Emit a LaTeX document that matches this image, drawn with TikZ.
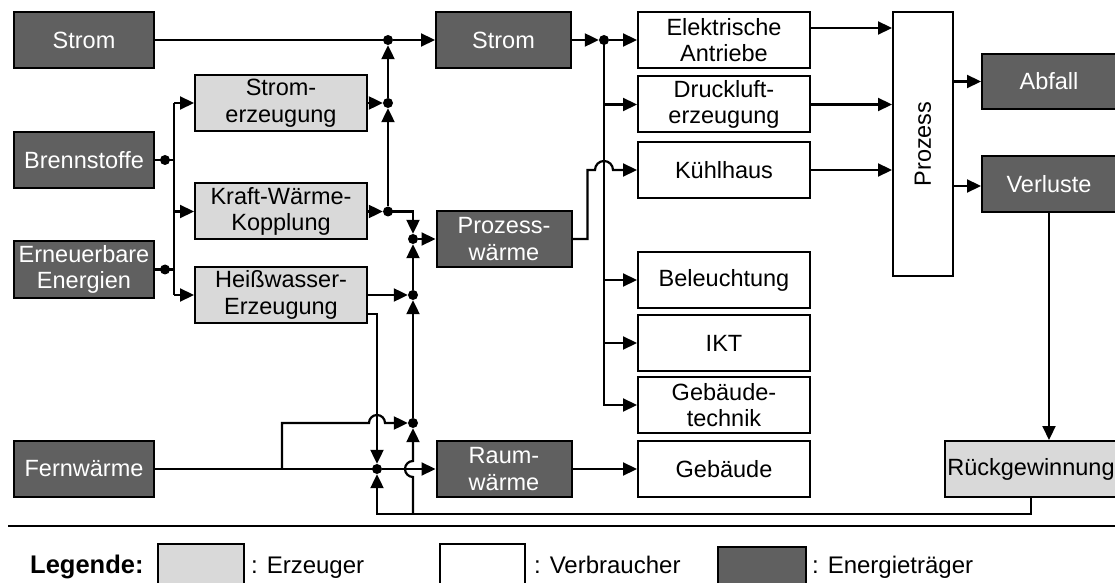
\documentclass[tikz,border=0pt]{standalone}
\usepackage{fontspec}
\setmainfont{Liberation Sans}
\usetikzlibrary{arrows.meta,calc}
\definecolor{carrierfill}{HTML}{606060}
\definecolor{generatorfill}{HTML}{D9D9D9}
\newcommand\boxfont{\fontsize{23.5bp}{26.5bp}\selectfont}
\newcommand\legfont{\fontsize{24bp}{27bp}\selectfont}
\newcommand\legheadfont{\fontsize{25.5bp}{28bp}\selectfont\bfseries}

\begin{document}
\begin{tikzpicture}[x=1bp,y=-1bp,
  box/.style={draw=black, line width=2bp, minimum height=56bp, inner sep=0pt,
    align=center, font=\boxfont},
  carrier/.style={box, fill=carrierfill, text=white, minimum width=140bp},
  gen/.style={box, fill=generatorfill, minimum width=172bp},
  cons/.style={box, fill=white, minimum width=172bp},
  link/.style={line width=2.2bp},
  flow/.style={line width=2.2bp, -{Triangle[length=14bp,width=13bp]}},
  dot/.style={circle, fill=black, inner sep=0pt, minimum size=10bp},
  legtext/.style={anchor=base west, inner sep=0pt, font=\legfont}]
\useasboundingbox (0,0) rectangle (1115,583);
\clip (0,0) rectangle (1115,583);

% primary energy carriers
\node[carrier] (stromIn) at (84,40) {Strom};
\node[carrier] (brenn) at (84,160) {Brennstoffe};
\node[carrier] (ern) at (84,269.5) {Erneuerbare\\Energien};
\node[carrier] (fern) at (84,469) {Fernwärme};

% conversion units
\node[gen] (se) at (281,103) {Strom-\\erzeugung};
\node[gen] (kwk) at (281,211.5) {Kraft-Wärme-\\Kopplung};
\node[gen] (hw) at (281,295) {Heißwasser-\\Erzeugung};

% final energy
\node[carrier, minimum width=135bp] (strom) at (503.5,40) {Strom};
\node[carrier, minimum width=135bp] (pw) at (504,239) {Prozess-\\wärme};
\node[carrier, minimum width=135bp] (rw) at (504,469) {Raum-\\wärme};

% consumers
\node[cons] (ea) at (724,40) {Elektrische\\Antriebe};
\node[cons] (dl) at (724,104.5) {Druckluft-\\erzeugung};
\node[cons] (kh) at (724,170) {Kühlhaus};
\node[cons] (bl) at (724,280) {Beleuchtung};
\node[cons] (ikt) at (724,343) {IKT};
\node[cons] (gt) at (724,405) {Gebäude-\\technik};
\node[cons] (geb) at (724,469) {Gebäude};
\node[cons, minimum width=60bp, minimum height=264bp] (proz) at (923,144) {\rotatebox{90}{Prozess}};

% outputs and recovery
\node[carrier, minimum width=134bp, minimum height=55bp] (abf) at (1049,81.5) {Abfall};
\node[carrier, minimum width=134bp] (verl) at (1049,184) {Verluste};
\node[gen] (rg) at (1031,469) {Rückgewinnung};

% junction dots
\node[dot] (jb) at (165,160) {};
\node[dot] (je) at (165,269.5) {};
\node[dot] (j1) at (388,40) {};
\node[dot] (j2) at (388,103) {};
\node[dot] (j3) at (388,211.5) {};
\node[dot] (j4) at (413,239) {};
\node[dot] (j5) at (413,295) {};
\node[dot] (j6) at (413,423) {};
\node[dot] (j7) at (377,469) {};
\node[dot] (j8) at (604,40) {};

% helper coordinates
\coordinate (bus) at (174,0);
\coordinate (fb) at (282,469);
\coordinate (pk) at ($(pw.east)+(15,0)$);
\coordinate (ret) at ($(rg.south)+(0,16)$);
\coordinate (eaOut) at ([yshift=12bp]ea.east);
\coordinate (hwOut) at ([yshift=-19bp]hw.east);

% fuels into conversion units
\draw[link] (brenn.east) -- (jb.center) -- (jb -| bus);
\draw[link] (ern.east) -- (je.center) -- (je -| bus);
\draw[link] (se.west -| bus) -- (hw.west -| bus);
\draw[flow] (se.west -| bus) -- (se.west);
\draw[flow] (kwk.west -| bus) -- (kwk.west);
\draw[flow] (hw.west -| bus) -- (hw.west);

% electricity
\draw[link] (stromIn.east) -- (j1.center);
\draw[flow] (j1) -- (strom.west);
\draw[flow] (se.east) -- (j2);
\draw[flow] (kwk.east) -- (j3);
\draw[flow] (j3) -- (j2);
\draw[flow] (j2) -- (j1);

% process heat
\draw[flow] (j3.center) -| (j4);
\draw[flow] (hw.east) -- (j5);
\draw[flow] (j5) -- (j4);
\draw[flow] (j4) -- (pw.west);
\draw[flow] (j6) -- (j5);

% district heat and space heat
\draw[link] (fern.east) -- (j7.center);
\draw[flow] (j7) -- (rw.west);
\draw[flow] (fb) |- ($(j7 |- j6)+(-8,0)$) arc[start angle=180,end angle=0,radius=8bp] -- (j6);
\draw[flow] (hwOut) -| (j7);
\draw[flow] (rg.south) -- (ret) -| (j7);
\draw[flow] (ret -| j6) -- ($(j6 |- j7)+(0,8)$) arc[start angle=270,end angle=90,radius=8bp] -- (j6);
\draw[flow] (rw.east) -- (geb.west);

% electricity distribution
\draw[flow] (strom.east) -- (j8);
\draw[flow] (j8) -- (ea.west);
\draw[flow] (j8.center) |- (gt.west);
\draw[flow] (j8 |- dl.west) -- (dl.west);
\draw[flow] (j8 |- bl.west) -- (bl.west);
\draw[flow] (j8 |- ikt.west) -- (ikt.west);
\draw[flow] (pw.east) -- (pk) |- ($(j8 |- kh.west)+(-9,0)$) arc[start angle=180,end angle=0,radius=9bp] -- (kh.west);

% process
\draw[flow] (eaOut) -- (eaOut -| proz.west);
\draw[flow] (dl.east) -- (dl.east -| proz.west);
\draw[flow] (kh.east) -- (kh.east -| proz.west);
\draw[flow] (proz.east |- abf.west) -- (abf.west);
\draw[flow] ([yshift=-2bp]proz.east |- verl.west) -- ([yshift=-2bp]verl.west);
\draw[flow] (verl.south) -- (verl.south |- rg.north);

% legend
\draw[line width=2.2bp] (8,526) -- (1115,526);
\node[legtext, font=\legheadfont] (leg) at (30,573) {Legende:};
\node[gen, minimum width=86bp, minimum height=50bp, anchor=north west] (lg) at (157,543) {};
\node[legtext] (lgt) at (251,573) {: Erzeuger};
\node[cons, minimum width=85bp, minimum height=50bp, anchor=north west] (lc) at (439,543) {};
\node[legtext] (lct) at (534,573) {: Verbraucher};
\node[carrier, minimum width=88bp, minimum height=46bp, anchor=north west] (lk) at (717,546) {};
\node[legtext] (lkt) at (812,573) {: Energieträger};
\end{tikzpicture}
\end{document}
